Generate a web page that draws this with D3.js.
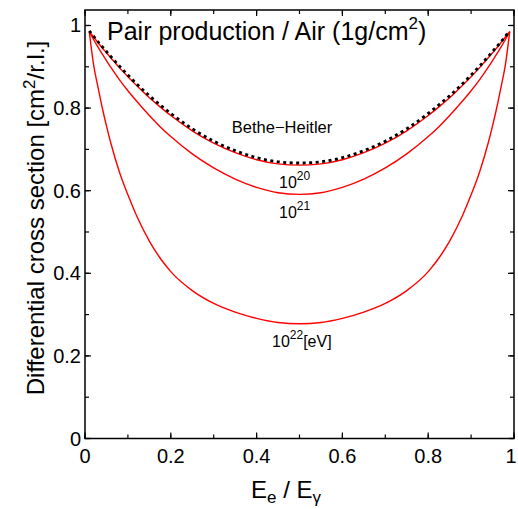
<!DOCTYPE html>
<html><head><meta charset="utf-8">
<script src="https://cdn.jsdelivr.net/npm/d3@7"></script>
<style>body{margin:0;background:#fff}svg{display:block}text{font-family:"Liberation Sans",Arial,sans-serif;fill:#000}</style>
</head><body>
<script>
const energyRatio = [0.01,0.02,0.03,0.04,0.05,0.06,0.08,0.1,0.12,0.15,0.175,0.2,0.25,0.3,0.35,0.4,0.45,0.5,0.55,0.6,0.65,0.7,0.75,0.8,0.825,0.85,0.88,0.9,0.92,0.94,0.95,0.96,0.97,0.98,0.99];
const betheHeitler = [0.987,0.974,0.961,0.949,0.937,0.925,0.902,0.880,0.859,0.830,0.808,0.787,0.750,0.720,0.697,0.680,0.670,0.667,0.670,0.680,0.697,0.720,0.750,0.787,0.808,0.830,0.859,0.880,0.902,0.925,0.937,0.949,0.961,0.974,0.987];
const lpm1e20 = [0.985,0.972,0.959,0.946,0.934,0.922,0.898,0.876,0.855,0.825,0.803,0.782,0.745,0.715,0.692,0.675,0.665,0.662,0.665,0.675,0.692,0.715,0.745,0.782,0.803,0.825,0.855,0.876,0.898,0.922,0.934,0.946,0.959,0.972,0.985];
const lpm1e21 = [0.985,0.966,0.948,0.931,0.915,0.899,0.869,0.842,0.817,0.782,0.755,0.731,0.689,0.655,0.628,0.608,0.595,0.591,0.595,0.608,0.628,0.655,0.689,0.731,0.755,0.782,0.817,0.842,0.869,0.899,0.915,0.931,0.948,0.966,0.985];
const lpm1e22 = [0.985,0.905,0.852,0.802,0.757,0.716,0.646,0.590,0.540,0.478,0.437,0.404,0.358,0.327,0.306,0.291,0.281,0.278,0.281,0.291,0.306,0.327,0.358,0.404,0.437,0.478,0.540,0.590,0.646,0.716,0.757,0.802,0.852,0.905,0.985];
const xTicks = [0,0.2,0.4,0.6,0.8,1];
const yTicks = [0,0.2,0.4,0.6,0.8,1];
const xTickLabels = ["0","0.2","0.4","0.6","0.8","1"];
const yTickLabels = ["0","0.2","0.4","0.6","0.8","1"];

const W=518,H=509;
const svg=d3.select("body").append("svg").attr("width",W).attr("height",H);
const x=d3.scaleLinear().domain([0,1]).range([85,514]);
const y=d3.scaleLinear().domain([0,1.0375]).range([438.5,10]);
const X0=x(0),X1=x(1),Y0=y.range()[0],Y1=y.range()[1];

const minor=d3.range(0,1.0001,0.1);
const g=svg.append("g");
function tickLines(vals,len){
  vals.forEach(v=>{
    g.append("line").attr("x1",x(v)).attr("x2",x(v)).attr("y1",Y0).attr("y2",Y0-len).attr("stroke","#000").attr("stroke-width",1.2);
    g.append("line").attr("x1",x(v)).attr("x2",x(v)).attr("y1",Y1).attr("y2",Y1+len).attr("stroke","#000").attr("stroke-width",1.2);
    g.append("line").attr("y1",y(v)).attr("y2",y(v)).attr("x1",X0).attr("x2",X0+len).attr("stroke","#000").attr("stroke-width",1.2);
    g.append("line").attr("y1",y(v)).attr("y2",y(v)).attr("x1",X1).attr("x2",X1-len).attr("stroke","#000").attr("stroke-width",1.2);
  });
}
tickLines(minor,4);
tickLines(xTicks,6);

xTicks.forEach((v,i)=>{
  g.append("text").attr("x",i===xTicks.length-1?x(v)-3:x(v)).attr("y",462.5).attr("text-anchor","middle").attr("font-size",20).text(xTickLabels[i]);
});
yTicks.forEach((v,i)=>{
  g.append("text").attr("x",81).attr("y",y(v)+7).attr("text-anchor","end").attr("font-size",20).text(yTickLabels[i]);
});

const line=(vals)=>d3.line().x((d,i)=>x(energyRatio[i])).y(d=>y(d)).curve(d3.curveMonotoneX)(vals);
[lpm1e22,lpm1e21,lpm1e20].forEach(s=>{
  svg.append("path").attr("d",line(s)).attr("fill","none").attr("stroke","#ff0000").attr("stroke-width",1.4);
});
svg.append("path").attr("d",line(betheHeitler)).attr("fill","none").attr("stroke","#000").attr("stroke-width",2.8).attr("stroke-dasharray","3,3.5");

svg.append("rect").attr("x",X0).attr("y",Y1).attr("width",X1-X0).attr("height",Y0-Y1).attr("fill","none").attr("stroke","#000").attr("stroke-width",1.5);

// title
const t=svg.append("text").attr("x",107).attr("y",40).attr("font-size",25);
t.append("tspan").text("Pair production / Air (1g/cm");
t.append("tspan").attr("dy",-11).attr("font-size",17).text("2");
t.append("tspan").attr("dy",11).text(")");

// curve labels
svg.append("text").attr("x",282).attr("y",133).attr("text-anchor","middle").attr("font-size",16.5).text("Bethe\u2212Heitler");
function powLabel(xp,yp,exp,suffix){
  const tx=svg.append("text").attr("x",xp).attr("y",yp).attr("font-size",16);
  tx.append("tspan").text("10");
  tx.append("tspan").attr("dy",-8).attr("font-size",12).text(exp);
  if(suffix) tx.append("tspan").attr("dy",8).text(suffix);
}
powLabel(279,187.5,"20");
powLabel(279,218,"21");
powLabel(272,347,"22","[eV]");

// axis titles
const xl=svg.append("text").attr("x",286).attr("y",498).attr("text-anchor","middle").attr("font-size",24);
xl.append("tspan").text("E");
xl.append("tspan").attr("dy",5).attr("font-size",17).text("e");
xl.append("tspan").attr("dy",-5).text(" / E");
xl.append("tspan").attr("dy",5).attr("font-size",17).text("\u03b3");

const yl=svg.append("text").attr("transform","translate(44,218) rotate(-90)").attr("text-anchor","middle").attr("font-size",24);
yl.append("tspan").text("Differential cross section [cm");
yl.append("tspan").attr("dy",-9).attr("font-size",17).text("2");
yl.append("tspan").attr("dy",9).text("/r.l.]");
</script>
</body></html>
